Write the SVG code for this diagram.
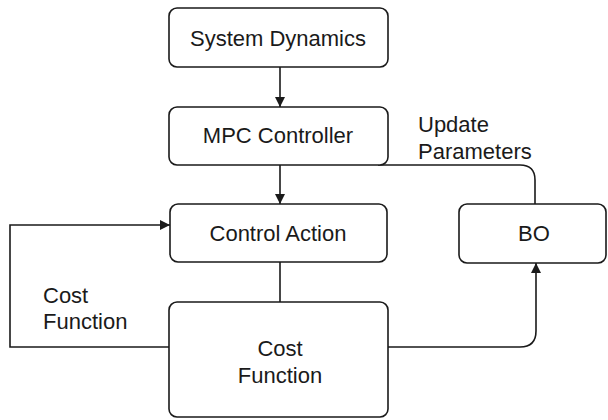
<svg xmlns="http://www.w3.org/2000/svg" width="608" height="420" viewBox="0 0 608 420">
<style>
.box{fill:#fff;stroke:#1a1a1a;stroke-width:1.6}
.lbl{font-family:"Liberation Sans",Arial,sans-serif;font-size:22px;fill:#1a1a1a}
.c{text-anchor:middle}
.ln{fill:none;stroke:#1a1a1a;stroke-width:1.6}
</style>
<defs>
<marker id="ah" viewBox="0 0 10 10" refX="10" refY="5" markerWidth="10" markerHeight="10" markerUnits="userSpaceOnUse" orient="auto">
<path d="M0,0 L10,5 L0,10 Z" fill="#1a1a1a"/>
</marker>
</defs>
<rect width="608" height="420" fill="#fff"/>
<g id="connectors">
<path class="ln" d="M280,67 V107" marker-end="url(#ah)"/>
<path class="ln" d="M280,165 V204" marker-end="url(#ah)"/>
<path class="ln" d="M280,262 V302"/>
<path class="ln" d="M378,165 H520 Q535,165 535,180 V204"/>
<path class="ln" d="M388,347 H520 Q536,347 536,331 V263" marker-end="url(#ah)"/>
<path class="ln" d="M169,347 H10 V225 H170" marker-end="url(#ah)"/>
<text class="lbl" x="418" y="132">Update</text>
<text class="lbl" x="418" y="159">Parameters</text>
<text class="lbl" x="43" y="303">Cost</text>
<text class="lbl" x="43" y="329">Function</text>
</g>
<g id="system-dynamics">
<rect class="box" x="169" y="8" width="219" height="59" rx="8"/>
<text class="lbl c" x="278" y="46">System Dynamics</text>
</g>
<g id="mpc-controller">
<rect class="box" x="169" y="107" width="219" height="58" rx="8"/>
<text class="lbl c" x="278" y="143">MPC Controller</text>
</g>
<g id="control-action">
<rect class="box" x="170" y="204" width="217" height="58" rx="8"/>
<text class="lbl c" x="278" y="241">Control Action</text>
</g>
<g id="bo">
<rect class="box" x="459" y="204" width="147" height="59" rx="8"/>
<text class="lbl c" x="534" y="241">BO</text>
</g>
<g id="cost-function">
<rect class="box" x="169" y="302" width="219" height="115" rx="8"/>
<text class="lbl c" x="280" y="356">Cost</text>
<text class="lbl c" x="280" y="383">Function</text>
</g>
</svg>
